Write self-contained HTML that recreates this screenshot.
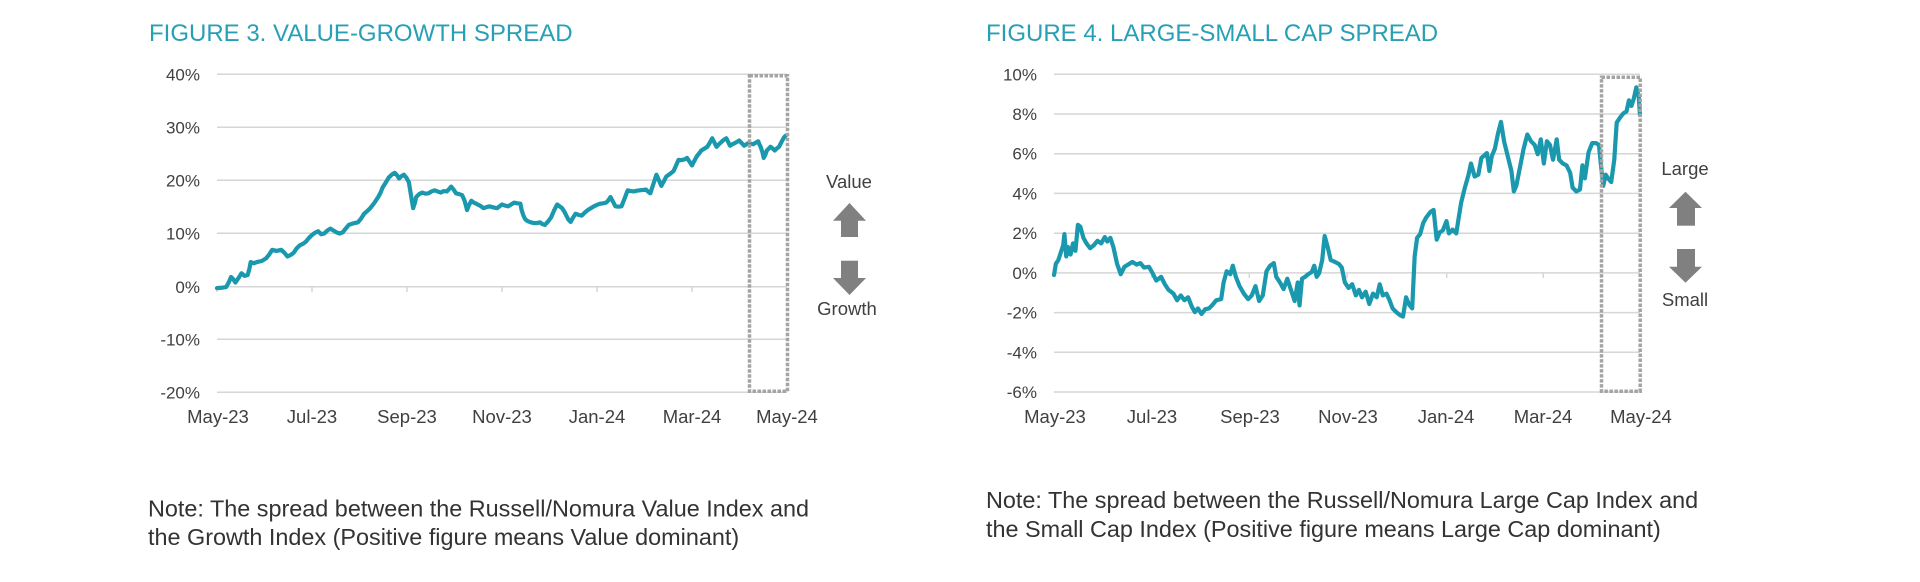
<!DOCTYPE html>
<html>
<head>
<meta charset="utf-8">
<style>
  html, body { margin:0; padding:0; background:#ffffff; }
  body { width:1920px; height:582px; overflow:hidden; }
  svg { display:block; }
  .title { font-family:"Liberation Sans", sans-serif; font-size:24px; fill:#27a0b5; }
  .yl { font-family:"Liberation Sans", sans-serif; font-size:17px; fill:#404040; text-anchor:end; }
  .xl { font-family:"Liberation Sans", sans-serif; font-size:18.5px; fill:#404040; text-anchor:middle; }
  .al { font-family:"Liberation Sans", sans-serif; font-size:18.5px; fill:#404040; text-anchor:middle; }
  .note { font-family:"Liberation Sans", sans-serif; font-size:23.4px; fill:#333333; }
  .grid { stroke:#d6d6d6; stroke-width:1.5; }
  .tick { stroke:#d6d6d6; stroke-width:1.5; }
  .box { fill:none; stroke:#a4a4a4; stroke-width:3.5; stroke-dasharray:3.5 1.5; }
  .series { fill:none; stroke:#1a98ad; stroke-width:4.2; stroke-linejoin:round; stroke-linecap:round; }
</style>
</head>
<body>
<svg width="1920" height="582" viewBox="0 0 1920 582" xmlns="http://www.w3.org/2000/svg">

  <!-- ================= FIGURE 3 ================= -->
  <text class="title" x="149" y="41">FIGURE 3. VALUE-GROWTH SPREAD</text>

  <line class="grid" x1="217" y1="74.3" x2="787" y2="74.3"/>
  <line class="grid" x1="217" y1="127.3" x2="787" y2="127.3"/>
  <line class="grid" x1="217" y1="180.3" x2="787" y2="180.3"/>
  <line class="grid" x1="217" y1="233.3" x2="787" y2="233.3"/>
  <line class="grid" x1="217" y1="286.8" x2="787" y2="286.8"/>
  <line class="grid" x1="217" y1="339.3" x2="787" y2="339.3"/>
  <line class="grid" x1="217" y1="392.3" x2="787" y2="392.3"/>
  <line class="tick" x1="217" y1="286.8" x2="217" y2="292"/>
  <line class="tick" x1="312" y1="286.8" x2="312" y2="292"/>
  <line class="tick" x1="407" y1="286.8" x2="407" y2="292"/>
  <line class="tick" x1="502" y1="286.8" x2="502" y2="292"/>
  <line class="tick" x1="597" y1="286.8" x2="597" y2="292"/>
  <line class="tick" x1="692" y1="286.8" x2="692" y2="292"/>

  <text class="yl" x="200" y="80.3">40%</text>
  <text class="yl" x="200" y="133.3">30%</text>
  <text class="yl" x="200" y="186.3">20%</text>
  <text class="yl" x="200" y="239.3">10%</text>
  <text class="yl" x="200" y="292.8">0%</text>
  <text class="yl" x="200" y="345.3">-10%</text>
  <text class="yl" x="200" y="398.3">-20%</text>

  <text class="xl" x="218" y="423">May-23</text>
  <text class="xl" x="312" y="423">Jul-23</text>
  <text class="xl" x="407" y="423">Sep-23</text>
  <text class="xl" x="502" y="423">Nov-23</text>
  <text class="xl" x="597" y="423">Jan-24</text>
  <text class="xl" x="692" y="423">Mar-24</text>
  <text class="xl" x="787" y="423">May-24</text>

  <g transform="matrix(0.6129 0 0 0.3719 -0.58 -0.08)">
    <polyline class="series" vector-effect="non-scaling-stroke" points="
      355,775 362,774 370,772 374,760 378,745 382,752 385,760 390,748 395,735 400,742 405,740 408,722 410,705 415,708 420,705 428,702 435,695 440,685 445,672 452,675 460,672 465,680 470,690 475,686 480,680 485,668 490,660 495,656 500,650 505,640 510,632 515,626 520,622 525,630 530,628 535,620 540,615 545,620 550,625 555,628 560,625 565,615 570,605 577,601 585,598 590,588 595,575 600,568 605,560 612,545 618,530 622,518 625,505 630,492 635,478 640,470 645,465 649,472 652,480 656,474 660,470 664,478 668,490 671,520 675,560 678,545 680,530 685,522 690,518 695,521 700,520 705,515 710,512 715,515 720,518 725,514 730,515 734,508 737,502 741,510 745,520 750,522 755,525 759,540 763,565 766,552 770,540 774,545 778,548 784,553 790,560 795,557 800,555 806,558 812,560 816,555 820,550 825,553 830,555 835,550 840,545 845,547 850,548 852,565 855,580 858,590 862,595 867,598 872,600 877,600 882,598 886,603 890,605 895,596 900,585 905,566 910,550 914,555 918,560 922,570 925,580 928,590 932,597 936,585 940,575 945,578 950,580 955,572 960,565 965,560 970,555 975,551 980,548 985,547 990,545 994,538 997,530 1001,542 1005,555 1010,556 1015,555 1020,534 1025,512 1030,514 1035,515 1040,513 1045,512 1050,511 1055,510 1058,515 1062,520 1067,495 1072,470 1076,485 1080,500 1084,488 1088,475 1094,468 1100,460 1104,445 1108,430 1112,431 1115,430 1119,428 1122,425 1126,435 1130,445 1134,432 1138,420 1142,412 1145,405 1150,400 1155,395 1159,384 1163,372 1167,385 1170,395 1174,388 1178,382 1182,376 1186,372 1189,382 1192,392 1196,388 1200,385 1204,381 1207,378 1211,385 1215,392 1219,388 1222,385 1226,387 1230,388 1234,384 1238,380 1240,388 1242,395 1245,410 1247,425 1250,415 1252,405 1255,400 1258,395 1262,400 1265,405 1268,400 1272,395 1276,382 1280,370 1283,365"/>
  </g>

  <rect class="box" x="749.5" y="75.8" width="38" height="315.5"/>

  <text class="al" x="849" y="188">Value</text>
  <polygon points="833,220.7 849.5,203 866,220.7" fill="#808080"/>
  <rect x="841" y="220" width="17" height="17" fill="#808080"/>
  <rect x="841" y="260.7" width="17" height="18" fill="#808080"/>
  <polygon points="833,278 866,278 849.5,295" fill="#808080"/>
  <text class="al" x="847" y="315">Growth</text>

  <text class="note" x="148" y="516.7">Note: The spread between the Russell/Nomura Value Index and</text>
  <text class="note" x="148" y="545">the Growth Index (Positive figure means Value dominant)</text>

  <!-- ================= FIGURE 4 ================= -->
  <text class="title" x="986" y="41">FIGURE 4. LARGE-SMALL CAP SPREAD</text>

  <line class="grid" x1="1054" y1="74.3" x2="1640" y2="74.3"/>
  <line class="grid" x1="1054" y1="114.0" x2="1640" y2="114.0"/>
  <line class="grid" x1="1054" y1="153.7" x2="1640" y2="153.7"/>
  <line class="grid" x1="1054" y1="193.4" x2="1640" y2="193.4"/>
  <line class="grid" x1="1054" y1="233.2" x2="1640" y2="233.2"/>
  <line class="grid" x1="1054" y1="272.9" x2="1640" y2="272.9"/>
  <line class="grid" x1="1054" y1="312.6" x2="1640" y2="312.6"/>
  <line class="grid" x1="1054" y1="352.3" x2="1640" y2="352.3"/>
  <line class="grid" x1="1054" y1="392.0" x2="1640" y2="392.0"/>
  <line class="tick" x1="1151.7" y1="272.9" x2="1151.7" y2="278"/>
  <line class="tick" x1="1249.3" y1="272.9" x2="1249.3" y2="278"/>
  <line class="tick" x1="1347" y1="272.9" x2="1347" y2="278"/>
  <line class="tick" x1="1446.7" y1="272.9" x2="1446.7" y2="278"/>
  <line class="tick" x1="1543.3" y1="272.9" x2="1543.3" y2="278"/>

  <text class="yl" x="1037" y="80.3">10%</text>
  <text class="yl" x="1037" y="120.0">8%</text>
  <text class="yl" x="1037" y="159.7">6%</text>
  <text class="yl" x="1037" y="199.4">4%</text>
  <text class="yl" x="1037" y="239.2">2%</text>
  <text class="yl" x="1037" y="278.9">0%</text>
  <text class="yl" x="1037" y="318.6">-2%</text>
  <text class="yl" x="1037" y="358.3">-4%</text>
  <text class="yl" x="1037" y="398.0">-6%</text>

  <text class="xl" x="1055" y="423">May-23</text>
  <text class="xl" x="1152" y="423">Jul-23</text>
  <text class="xl" x="1250" y="423">Sep-23</text>
  <text class="xl" x="1348" y="423">Nov-23</text>
  <text class="xl" x="1446" y="423">Jan-24</text>
  <text class="xl" x="1543" y="423">Mar-24</text>
  <text class="xl" x="1641" y="423">May-24</text>

  <g transform="matrix(0.6123 0 0 0.3716 959.1 0)">
    <polyline class="series" vector-effect="non-scaling-stroke" points="
      155,740 158,710 162,700 166,680 170,660 172,630 175,690 178,665 182,685 186,655 190,675 194,605 198,610 203,640 208,655 214,668 220,660 226,648 232,655 238,638 242,650 247,640 252,665 258,710 264,738 270,718 276,712 283,705 290,712 296,708 302,720 310,718 316,735 322,755 330,745 336,765 342,780 350,790 356,808 362,795 368,808 374,800 380,825 385,840 390,830 396,845 402,832 408,830 414,820 420,808 428,805 432,760 437,730 443,738 447,715 452,745 458,770 465,790 472,805 478,795 484,770 490,810 496,795 502,730 508,715 514,708 518,745 524,760 530,778 536,750 542,780 548,810 553,760 556,822 560,750 565,745 570,738 576,732 580,715 584,745 588,735 593,700 597,635 602,665 607,700 614,705 620,710 625,720 630,760 636,775 642,765 648,795 653,780 658,800 664,785 670,818 676,790 682,800 687,765 692,795 698,790 703,808 708,830 714,840 720,848 725,852 730,800 735,820 740,830 744,690 748,640 753,630 758,600 763,585 770,570 775,565 780,645 785,625 790,620 796,595 800,628 806,618 812,628 816,585 820,545 826,505 832,470 836,440 842,475 848,470 853,425 858,418 862,412 866,460 870,420 875,400 880,360 885,328 890,380 896,420 902,460 906,515 910,500 916,450 922,400 928,362 934,380 940,390 945,415 950,375 955,440 960,380 965,390 970,430 976,375 980,430 986,440 992,445 998,465 1002,505 1008,515 1014,510 1018,445 1022,480 1028,410 1034,385 1040,385 1045,390 1048,440 1052,500 1056,470 1060,480 1065,490 1070,430 1074,330 1080,315 1085,305 1090,300 1094,270 1098,285 1102,265 1106,235 1110,260 1112,310"/>
  </g>

  <rect class="box" x="1601.5" y="77.2" width="38.7" height="314"/>

  <text class="al" x="1685" y="175">Large</text>
  <polygon points="1669,208 1685.5,191.7 1702,208" fill="#808080"/>
  <rect x="1677" y="207.5" width="18" height="18.2" fill="#808080"/>
  <rect x="1677" y="249" width="18" height="18" fill="#808080"/>
  <polygon points="1669,266.7 1702,266.7 1685.5,282.7" fill="#808080"/>
  <text class="al" x="1685" y="306">Small</text>

  <text class="note" x="986" y="508">Note: The spread between the Russell/Nomura Large Cap Index and</text>
  <text class="note" x="986" y="537">the Small Cap Index (Positive figure means Large Cap dominant)</text>
</svg>
</body>
</html>
